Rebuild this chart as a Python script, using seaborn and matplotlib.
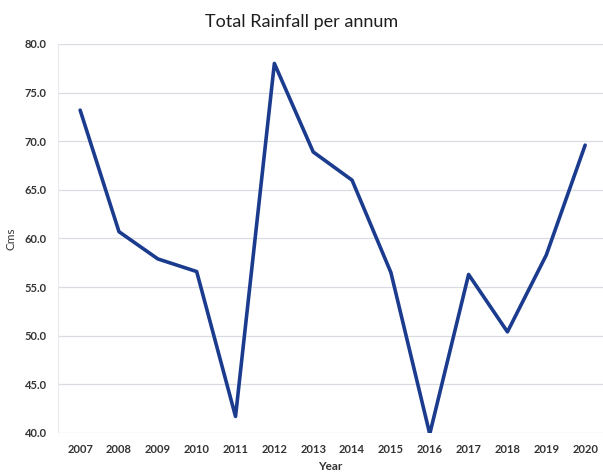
import matplotlib
matplotlib.use("Agg")
import matplotlib.pyplot as plt
import seaborn as sns
import pandas as pd

years = ['2007', '2008', '2009', '2010', '2011', '2012', '2013',
         '2014', '2015', '2016', '2017', '2018', '2019', '2020']
rainfall = [73.2, 60.7, 57.9, 56.6, 41.7, 78.0, 68.9,
            66.0, 56.5, 39.9, 56.3, 50.4, 58.3, 69.6]
y_ticks = [40, 45, 50, 55, 60, 65, 70, 75, 80]

sns.set_style('white')
plt.rcParams['font.family'] = ['Lato', 'DejaVu Sans']

df = pd.DataFrame({'Year': years, 'Cms': rainfall})

fig = plt.figure(figsize=(6.03, 4.75), dpi=100)
ax = fig.add_axes([58 / 603, 1 - 433 / 475, 545 / 603, 389 / 475])

for t in y_ticks:
    ax.axhline(t, color='#d9dde3', linewidth=0.9, zorder=0)

sns.lineplot(data=df, x='Year', y='Cms', sort=False, ax=ax,
             color='#1b3c8e', linewidth=2.6)

# x range so that 2007 sits at ~80px and 2020 at ~585px
ax.set_ylim(40, 80)
ax.set_xlim(-0.57, 13.46)
ax.set_yticks(y_ticks)
ax.set_yticklabels([f'{t:.1f}' for t in y_ticks], fontsize=8, fontweight='bold',
                   color='#333333')
ax.set_xticks(range(len(years)))
ax.set_xticklabels(years, fontsize=8, fontweight='bold', color='#333333')
ax.tick_params(axis='both', length=0, pad=8)
ax.tick_params(axis='x', pad=8)
for s in ax.spines.values():
    s.set_visible(False)
ax.axvline(-0.57, color='#e6e8ec', linewidth=0.8, zorder=0)

ax.set_xlabel('Year', fontsize=8.5, fontweight='bold', color='#333333', labelpad=4)
ax.set_ylabel('Cms', fontsize=8.5, color='#333333', labelpad=6)
fig.text(0.5, 1 - 22 / 475, 'Total Rainfall per annum', ha='center', va='center',
         fontsize=13, color='#1e1e1e')

fig.savefig('out.png', dpi=100)
